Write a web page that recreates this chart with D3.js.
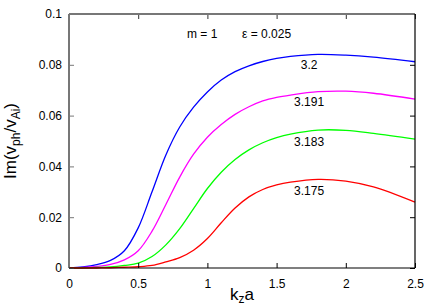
<!DOCTYPE html>
<html>
<head>
<meta charset="utf-8">
<script src="https://cdn.jsdelivr.net/npm/d3@7"></script>
<style>
  body { margin: 0; background: #fff; }
  svg { display: block; font-family: "Liberation Sans", Arial, sans-serif; }
</style>
</head>
<body>
<div id="chart"></div>
<script>
const kz = [0, 0.1, 0.2, 0.3, 0.4, 0.5, 0.6, 0.7, 0.8, 0.9, 1.0, 1.1, 1.2, 1.3, 1.4, 1.5, 1.6, 1.8, 2.0, 2.2, 2.5];
const im320 = [0, 0.0004, 0.0013, 0.003, 0.0068, 0.0158, 0.0300, 0.0445, 0.0555, 0.0633, 0.0693, 0.074, 0.0773, 0.0796, 0.0813, 0.0825, 0.0833, 0.0841, 0.0838, 0.0830, 0.0812];
const im3191 = [0, 0.0002, 0.0006, 0.0014, 0.0032, 0.0068, 0.0145, 0.025, 0.0358, 0.0448, 0.0515, 0.0565, 0.0605, 0.0635, 0.0658, 0.0672, 0.0681, 0.0694, 0.0696, 0.0688, 0.0665];
const im3183 = [0, 0, 0.0002, 0.0004, 0.001, 0.0019, 0.0045, 0.0091, 0.0155, 0.0234, 0.0313, 0.0377, 0.0427, 0.0465, 0.0493, 0.0513, 0.0527, 0.0543, 0.0542, 0.053, 0.0507];
const im3175 = [0, 0, 0, 0.0001, 0.0003, 0.0005, 0.001, 0.0024, 0.0041, 0.007, 0.0116, 0.0178, 0.0236, 0.028, 0.0309, 0.0327, 0.0338, 0.0349, 0.0342, 0.0319, 0.0259];
const seriesNames = ["3.2", "3.191", "3.183", "3.175"];
const seriesColors = ["#0000ff", "#ff00ff", "#00ff00", "#ff0000"];
const labelY = [0.0783, 0.0638, 0.0482, 0.0289];
const labelX = 1.735;
const xTicks = [0, 0.5, 1, 1.5, 2, 2.5];
const yTicks = [0, 0.02, 0.04, 0.06, 0.08, 0.1];

const series = [im320, im3191, im3183, im3175].map((vals, i) => ({
    name: seriesNames[i],
    color: seriesColors[i],
    ly: labelY[i],
    points: kz.map((k, j) => [k, vals[j]])
}));

const width = 436, height = 305;
const margin = { top: 14, right: 21, bottom: 37, left: 69 };
const w = width - margin.left - margin.right;
const h = height - margin.top - margin.bottom;

const svg = d3.select("#chart").append("svg")
    .attr("width", width)
    .attr("height", height);

const g = svg.append("g")
    .attr("transform", `translate(${margin.left},${margin.top})`);

const x = d3.scaleLinear().domain([0, 2.5]).range([0, w]);
const y = d3.scaleLinear().domain([0, 0.1]).range([h, 0]);

// curves
const line = d3.line()
    .x(d => x(d[0]))
    .y(d => y(d[1]))
    .curve(d3.curveCatmullRom.alpha(0.5));

g.selectAll(".curve")
    .data(series)
    .enter()
    .append("path")
    .attr("class", "curve")
    .attr("d", d => line(d.points))
    .attr("fill", "none")
    .attr("stroke", d => d.color)
    .attr("stroke-width", 1.3);

// axes, ticks point inward
const fmt = d => d === 0 ? "0" : String(d);

const xAxis = g.append("g")
    .attr("transform", `translate(0,${h})`)
    .call(d3.axisBottom(x).tickValues(xTicks).tickSize(-5).tickPadding(11).tickFormat(fmt));
const xTop = g.append("g")
    .call(d3.axisTop(x).tickValues(xTicks).tickSize(-5).tickFormat(""));
const yAxis = g.append("g")
    .call(d3.axisLeft(y).tickValues(yTicks).tickSize(-5).tickPadding(7).tickFormat(fmt));
const yRight = g.append("g")
    .attr("transform", `translate(${w},0)`)
    .call(d3.axisRight(y).tickValues(yTicks).tickSize(-5).tickFormat(""));

[xAxis, xTop, yAxis, yRight].forEach(a => {
    a.select(".domain").remove();
    a.selectAll("text").attr("font-size", 12).attr("fill", "#000")
        .attr("font-family", "Liberation Sans, Arial, sans-serif");
});
xAxis.selectAll("line").attr("stroke", "#000");
xTop.selectAll("line").attr("stroke", "#333");
yRight.selectAll("line").attr("stroke", "#000");
yAxis.selectAll("line").attr("stroke", "#777");

// frame: top/left gray, bottom/right black
g.append("line").attr("x1", 0).attr("x2", w).attr("y1", 0).attr("y2", 0)
    .attr("stroke", "#777").attr("stroke-width", 2);
g.append("line").attr("x1", 0).attr("x2", 0).attr("y1", 0).attr("y2", h)
    .attr("stroke", "#777").attr("stroke-width", 2);
g.append("line").attr("x1", 0).attr("x2", w).attr("y1", h).attr("y2", h)
    .attr("stroke", "#000").attr("stroke-width", 1.2);
g.append("line").attr("x1", w).attr("x2", w).attr("y1", 0).attr("y2", h)
    .attr("stroke", "#000").attr("stroke-width", 1.2);

// series labels
g.selectAll(".lbl")
    .data(series)
    .enter()
    .append("text")
    .attr("class", "lbl")
    .attr("x", x(labelX))
    .attr("y", d => y(d.ly))
    .attr("text-anchor", "middle")
    .attr("font-size", 12)
    .text(d => d.name);

// parameters
svg.append("text").attr("x", 187).attr("y", 38).attr("font-size", 12).text("m = 1");
svg.append("text").attr("x", 242).attr("y", 38).attr("font-size", 12).text("\u03b5 = 0.025");

// axis titles
const xt = svg.append("text")
    .attr("x", 242).attr("y", 300)
    .attr("text-anchor", "middle")
    .attr("font-size", 17);
xt.append("tspan").text("k");
xt.append("tspan").attr("font-size", 12).attr("dy", 3).text("z");
xt.append("tspan").attr("dy", -3).text("a");

const yt = svg.append("text")
    .attr("transform", `translate(16,${margin.top + h / 2}) rotate(-90)`)
    .attr("text-anchor", "middle")
    .attr("font-size", 17);
yt.append("tspan").text("Im(v");
yt.append("tspan").attr("font-size", 12).attr("dy", 4).text("ph");
yt.append("tspan").attr("dy", -4).text("/v");
yt.append("tspan").attr("font-size", 12).attr("dy", 4).text("Ai");
yt.append("tspan").attr("dy", -4).text(")");
</script>
</body>
</html>
